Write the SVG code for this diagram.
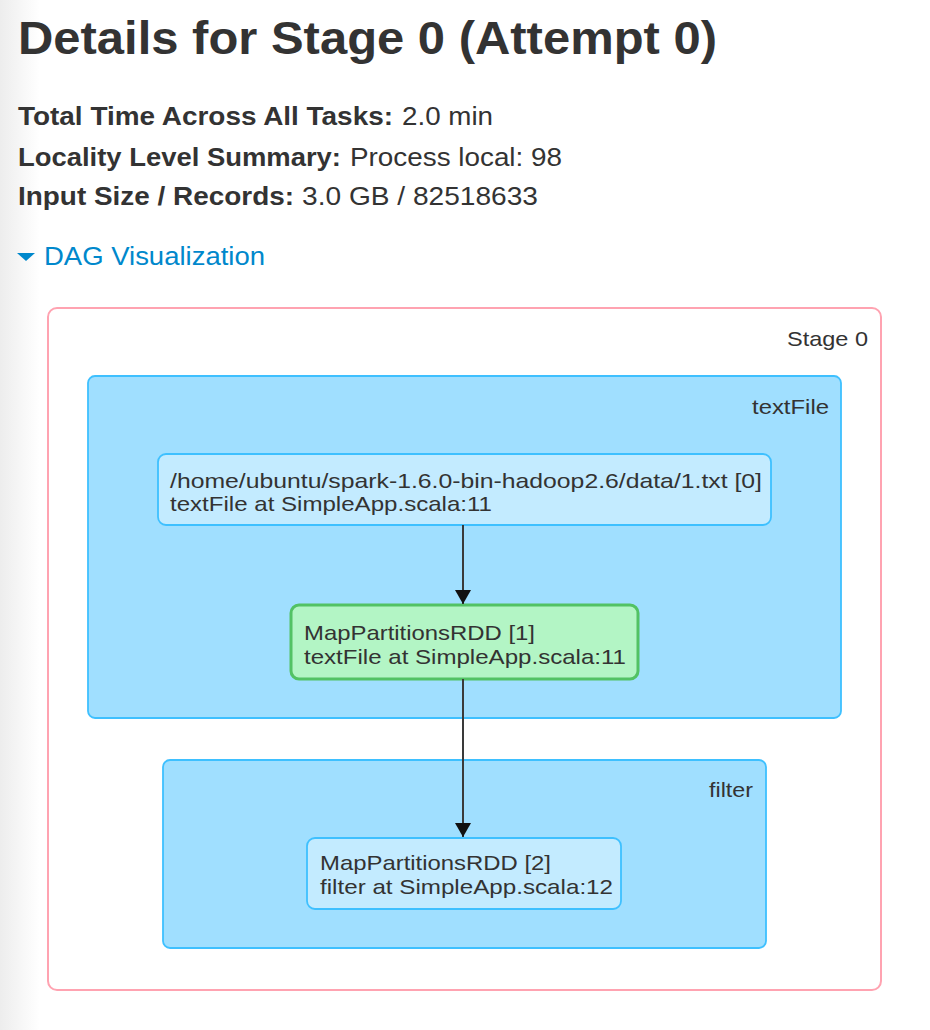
<svg xmlns="http://www.w3.org/2000/svg" width="930" height="1030" viewBox="0 0 930 1030">
<defs>
<linearGradient id="shade" x1="0" y1="0" x2="1" y2="0">
<stop offset="0" stop-color="#ededed"/>
<stop offset="1" stop-color="#ffffff"/>
</linearGradient>
<marker id="arrow" viewBox="0 0 14 16" refX="14" refY="8" markerWidth="14" markerHeight="16" markerUnits="userSpaceOnUse" orient="auto">
<path d="M0,0 L14,8 L0,16 z" fill="#111"/>
</marker>
<style>
text { font-family: "Liberation Sans", Arial, sans-serif; fill: #333; }
.title { font-size: 47px; font-weight: bold; }
.info { font-size: 25px; }
.b { font-weight: bold; }
.link { font-size: 25px; fill: #0088cc; }
.stage { fill: #ffffff; stroke: #ffa3b1; stroke-width: 2; }
.cluster { fill: #a0dfff; stroke: #3ec0ff; stroke-width: 1.8; }
.node { fill: #c3ebff; stroke: #3ec0ff; stroke-width: 1.8; }
.cached { fill: #b3f5c5; stroke: #52c264; stroke-width: 3; }
.lbl { font-size: 21px; }
.edge { stroke: #3a3a3a; stroke-width: 2; fill: none; }
</style>
</defs>
<rect x="0" y="0" width="930" height="1030" fill="#ffffff"/>
<rect x="0" y="0" width="40" height="1030" fill="url(#shade)"/>

<text class="title" x="18" y="54" textLength="699" lengthAdjust="spacingAndGlyphs">Details for Stage 0 (Attempt 0)</text>
<text class="info b" x="18" y="124.5" textLength="375" lengthAdjust="spacingAndGlyphs">Total Time Across All Tasks:</text>
<text class="info" x="402" y="124.5" textLength="91" lengthAdjust="spacingAndGlyphs">2.0 min</text>
<text class="info b" x="18" y="165.5" textLength="323" lengthAdjust="spacingAndGlyphs">Locality Level Summary:</text>
<text class="info" x="350" y="165.5" textLength="212" lengthAdjust="spacingAndGlyphs">Process local: 98</text>
<text class="info b" x="18" y="205" textLength="276" lengthAdjust="spacingAndGlyphs">Input Size / Records:</text>
<text class="info" x="302" y="205" textLength="236" lengthAdjust="spacingAndGlyphs">3.0 GB / 82518633</text>
<path d="M17,253 L35,253 L26,261 z" fill="#0088cc"/>
<text class="link" x="44" y="264.5" textLength="221" lengthAdjust="spacingAndGlyphs">DAG Visualization</text>

<g id="stage0">
<rect class="stage" x="48" y="308" width="833" height="682" rx="9"/>
<text class="lbl" x="868" y="346" text-anchor="end" textLength="81" lengthAdjust="spacingAndGlyphs">Stage 0</text>
</g>
<g id="cluster-textFile">
<rect class="cluster" x="88" y="376" width="753" height="342" rx="7"/>
<text class="lbl" x="829" y="414" text-anchor="end" textLength="77" lengthAdjust="spacingAndGlyphs">textFile</text>
</g>
<g id="cluster-filter">
<rect class="cluster" x="163" y="760" width="603" height="188" rx="7"/>
<text class="lbl" x="753" y="797" text-anchor="end" textLength="44" lengthAdjust="spacingAndGlyphs">filter</text>
</g>
<g id="node0">
<rect class="node" x="158" y="454" width="613" height="71" rx="8"/>
<text class="lbl" x="170" y="488" textLength="592" lengthAdjust="spacingAndGlyphs">/home/ubuntu/spark-1.6.0-bin-hadoop2.6/data/1.txt [0]</text>
<text class="lbl" x="170" y="511" textLength="322" lengthAdjust="spacingAndGlyphs">textFile at SimpleApp.scala:11</text>
</g>
<g id="node1">
<rect class="cached" x="291" y="605" width="347" height="74" rx="8"/>
<text class="lbl" x="304" y="640" textLength="231" lengthAdjust="spacingAndGlyphs">MapPartitionsRDD [1]</text>
<text class="lbl" x="304" y="664" textLength="322" lengthAdjust="spacingAndGlyphs">textFile at SimpleApp.scala:11</text>
</g>
<g id="node2">
<rect class="node" x="307" y="838" width="314" height="71" rx="8"/>
<text class="lbl" x="320" y="870" textLength="231" lengthAdjust="spacingAndGlyphs">MapPartitionsRDD [2]</text>
<text class="lbl" x="320" y="894" textLength="293" lengthAdjust="spacingAndGlyphs">filter at SimpleApp.scala:12</text>
</g>
<g id="edges">
<path class="edge" d="M463,525 L463,604" marker-end="url(#arrow)"/>
<path class="edge" d="M463,679 L463,837" marker-end="url(#arrow)"/>
</g>
</svg>
